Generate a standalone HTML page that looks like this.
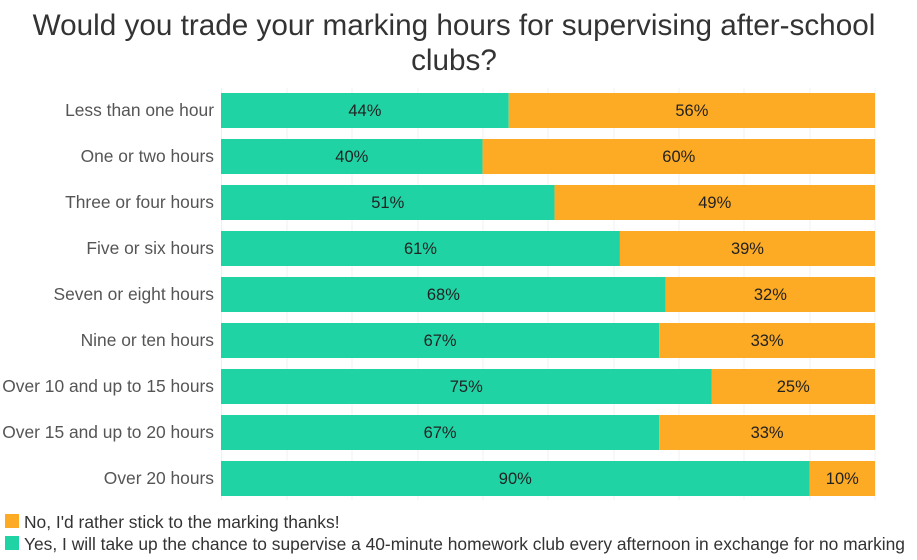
<!DOCTYPE html>
<html><head><meta charset="utf-8"><style>
body{margin:0;background:#fff;}
svg text{font-family:"Liberation Sans",sans-serif;}
</style></head><body>
<svg width="917" height="555" xmlns="http://www.w3.org/2000/svg">
<text x="454" y="35" font-size="29.7" fill="#333" text-anchor="middle">Would you trade your marking hours for supervising after-school</text>
<text x="454" y="70" font-size="29.7" fill="#333" text-anchor="middle">clubs?</text>
<g stroke="#f0f0f0" stroke-width="1">
<line x1="221.5" y1="88" x2="221.5" y2="500"/><line x1="287" y1="88" x2="287" y2="500"/><line x1="352" y1="88" x2="352" y2="500"/><line x1="418" y1="88" x2="418" y2="500"/><line x1="483" y1="88" x2="483" y2="500"/><line x1="548" y1="88" x2="548" y2="500"/><line x1="614" y1="88" x2="614" y2="500"/><line x1="679" y1="88" x2="679" y2="500"/><line x1="744" y1="88" x2="744" y2="500"/><line x1="810" y1="88" x2="810" y2="500"/><line x1="875" y1="88" x2="875" y2="500"/>
</g>
<g id="bars" font-size="16.5" text-anchor="middle"></g>
<g font-size="17.4" fill="#555" text-anchor="end" id="labels"></g>
<rect x="5" y="514" width="14" height="14" fill="#fdab24"/>
<text x="24" y="528" font-size="17.4" fill="#333">No, I'd rather stick to the marking thanks!</text>
<rect x="5" y="536" width="14" height="14" fill="#20d3a5"/>
<text x="24" y="550" font-size="17.4" fill="#333">Yes, I will take up the chance to supervise a 40-minute homework club every afternoon in exchange for no marking</text>
</svg>
<script>
var d=[["Less than one hour",44],["One or two hours",40],["Three or four hours",51],["Five or six hours",61],["Seven or eight hours",68],["Nine or ten hours",67],["Over 10 and up to 15 hours",75],["Over 15 and up to 20 hours",67],["Over 20 hours",90]];
var ns="http://www.w3.org/2000/svg",b=document.getElementById("bars"),l=document.getElementById("labels");
function el(p,t,a,tx){var e=document.createElementNS(ns,t);for(var k in a)e.setAttribute(k,a[k]);if(tx)e.textContent=tx;p.appendChild(e);}
d.forEach(function(r,i){var y=93+i*46,x0=221,W=654,w=W*r[1]/100;
el(b,"rect",{x:x0,y:y,width:w,height:35,fill:"#20d3a5"});
el(b,"rect",{x:x0+w,y:y,width:W-w,height:35,fill:"#fdab24"});
el(b,"text",{x:x0+w/2,y:y+23,fill:"#222"},r[1]+"%");
el(b,"text",{x:x0+w+(W-w)/2,y:y+23,fill:"#222"},(100-r[1])+"%");
el(l,"text",{x:214,y:y+23},r[0]);});
</script>
</body></html>
